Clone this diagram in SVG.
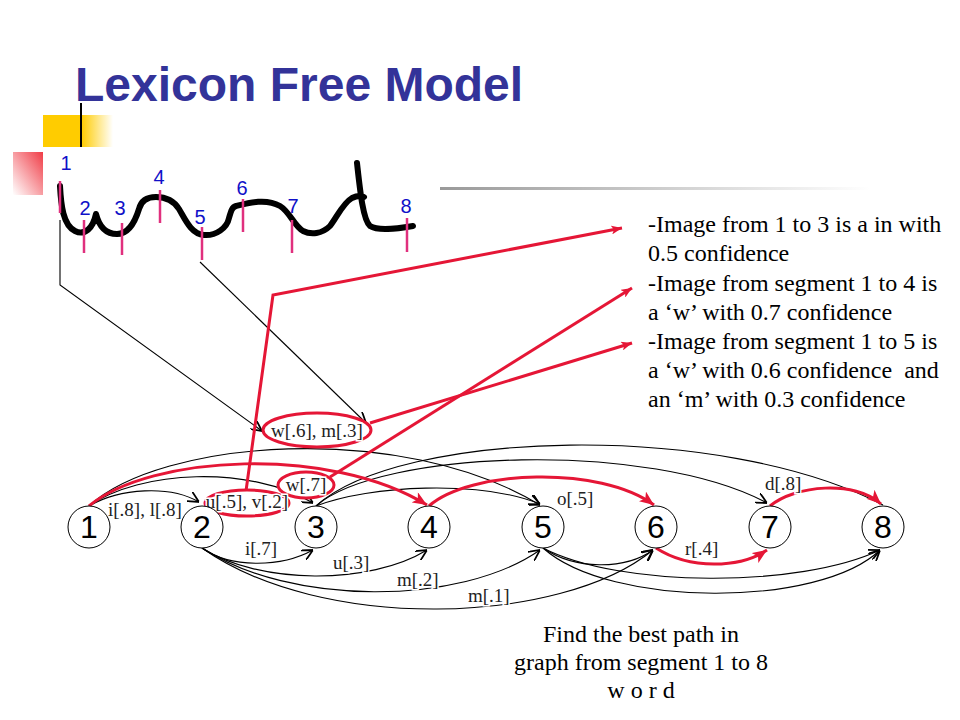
<svg xmlns="http://www.w3.org/2000/svg" width="960" height="720" viewBox="0 0 960 720">
<style>
.arc{fill:none;stroke:#000;stroke-width:1.1}
.red{fill:none;stroke:#e51636;stroke-width:3}
.node circle{fill:#fff;stroke:#000;stroke-width:1}
.node text{font-family:"Liberation Sans",Arial,sans-serif;font-size:32px;text-anchor:middle;fill:#000}
.lbl{font-family:"Liberation Serif","Times New Roman",serif;font-size:19px;fill:#222;paint-order:stroke;stroke:#fff;stroke-width:3}
.seg{stroke:#e0307e;stroke-width:2.5}
.num{font-family:"Liberation Sans",Arial,sans-serif;font-size:20px;fill:#1010c8;text-anchor:middle}
.body{font-family:"Liberation Serif","Times New Roman",serif;font-size:24px;fill:#000}
.oval{fill:#fff;stroke:#e51636;stroke-width:3}
</style>
<defs>
<marker id="ah" viewBox="0 0 10 10" refX="10" refY="5" markerWidth="11" markerHeight="11" markerUnits="userSpaceOnUse" orient="auto"><path d="M0,0 L10,5 L0,10" fill="none" stroke="#000" stroke-width="1.6"/></marker>
<marker id="ahr" viewBox="0 0 12 10" refX="12" refY="5" markerWidth="15" markerHeight="12" markerUnits="userSpaceOnUse" orient="auto"><path d="M0,0 L12,5 L0,10 L3,5 z" fill="#e51636"/></marker>
<marker id="ahs" viewBox="0 0 12 10" refX="12" refY="5" markerWidth="11" markerHeight="9" markerUnits="userSpaceOnUse" orient="auto"><path d="M0,0 L12,5 L0,10 L3,5 z" fill="#e51636"/></marker>
<linearGradient id="gy" x1="0" y1="0" x2="1" y2="0"><stop offset="0.55" stop-color="#ffcc00"/><stop offset="1" stop-color="#ffcc00" stop-opacity="0"/></linearGradient>
<linearGradient id="gp" x1="1" y1="0" x2="0" y2="1"><stop offset="0" stop-color="#f03c46"/><stop offset="1" stop-color="#f03c46" stop-opacity="0"/></linearGradient>
<linearGradient id="gg" x1="0" y1="0" x2="1" y2="0"><stop offset="0" stop-color="#999"/><stop offset="1" stop-color="#999" stop-opacity="0"/></linearGradient>
</defs>
<rect width="960" height="720" fill="#fff"/>

<g id="decoration">
<rect x="43" y="115" width="70" height="32" fill="url(#gy)"/>
<line x1="81" y1="103" x2="81" y2="147" stroke="#000" stroke-width="2"/>
<rect x="13" y="152" width="30" height="43" fill="url(#gp)"/>
<rect x="440" y="187" width="430" height="3" fill="url(#gg)"/>
</g>

<text id="title" x="75" y="101" font-family="Liberation Sans,Arial,sans-serif" font-weight="bold" font-size="48" fill="#333399">Lexicon Free Model</text>

<g id="handwriting">
<path d="M60,186 C61,205 63,225 75,231 C85,236 93,228 96,214 C99,226 105,234 117,234 C128,234 135,222 139,209 C141,201 146,197 156,197 C166,197 174,201 179,209 C185,219 191,234 204,235 C216,236 227,228 229,218 C231,211 232,207 236,206 C248,203 266,198 280,206 C290,212 294,226 303,231 C311,235 322,234 330,226 C337,217 343,203 352,198 C358,195 363,196 364,197 M357,163 C360,190 363,220 370,226 C378,231 395,229 413,226" fill="none" stroke="#000" stroke-width="6" stroke-linecap="round" stroke-linejoin="round"/>
</g>

<g id="segments">
<line class="seg" x1="60" y1="181" x2="60" y2="213"/>
<line class="seg" x1="84" y1="220" x2="84" y2="253"/>
<line class="seg" x1="122" y1="223" x2="122" y2="255"/>
<line class="seg" x1="160" y1="190" x2="160" y2="223"/>
<line class="seg" x1="202" y1="227" x2="202" y2="260"/>
<line class="seg" x1="243" y1="199" x2="243" y2="232"/>
<line class="seg" x1="292" y1="220" x2="292" y2="253"/>
<line class="seg" x1="407" y1="218" x2="407" y2="252"/>
<text class="num" x="66" y="170">1</text>
<text class="num" x="85" y="215">2</text>
<text class="num" x="120" y="215">3</text>
<text class="num" x="159" y="184">4</text>
<text class="num" x="200" y="224">5</text>
<text class="num" x="242" y="195">6</text>
<text class="num" x="293" y="213">7</text>
<text class="num" x="406" y="213">8</text>
</g>

<g id="connectors">
<path class="arc" d="M60,220 L60,285 L262,431" marker-end="url(#ah)" stroke-width="0.9"/>
<path class="arc" d="M200,262 L366,423" marker-end="url(#ah)" stroke-width="0.9"/>
<path class="arc" d="M89,506 C120,488 170,485 199,502" marker-end="url(#ah)"/>
<path class="arc" d="M89,506 C140,470 250,465 313,503" marker-end="url(#ah)"/>
<path class="arc" d="M89,506 C160,440 400,420 540,505" marker-end="url(#ah)"/>
<path class="arc" d="M316,506 C370,485 480,480 540,504" marker-end="url(#ah)"/>
<path class="arc" d="M316,506 C380,450 650,440 767,503" marker-end="url(#ah)"/>
<path class="arc" d="M316,506 C400,430 720,420 883,505"/>
<path class="arc" d="M202,548 C230,568 280,568 313,550" marker-end="url(#ah)"/>
<path class="arc" d="M202,548 C260,585 370,585 427,550" marker-end="url(#ah)"/>
<path class="arc" d="M202,548 C290,606 460,606 540,550" marker-end="url(#ah)"/>
<path class="arc" d="M202,548 C320,632 560,626 653,550" marker-end="url(#ah)"/>
<path class="arc" d="M543,548 C575,570 625,570 653,550" marker-end="url(#ah)"/>
<path class="arc" d="M543,548 C620,588 800,588 880,550" marker-end="url(#ah)"/>
<path class="arc" d="M543,548 C610,608 820,608 880,550" marker-end="url(#ah)"/>
<path class="red" d="M89,506 C150,455 330,445 427,505" marker-end="url(#ahr)"/>
<path class="red" d="M429,506 C470,470 600,465 654,505" marker-end="url(#ahr)"/>
<path class="red" d="M656,548 C690,570 740,568 767,550" marker-end="url(#ahr)"/>
<path class="red" d="M770,506 C795,485 855,480 881,504" marker-end="url(#ahr)"/>
<path class="red" d="M246,491 L273,295 L622,228" marker-end="url(#ahs)"/>
<path class="red" d="M330,477 L632,288" marker-end="url(#ahs)"/>
<path class="red" d="M370,423 L632,343" marker-end="url(#ahs)"/>
</g>

<g id="label-w6m3"><ellipse class="oval" cx="317" cy="430" rx="54" ry="17"/><text class="lbl" x="317" y="437" text-anchor="middle">w[.6], m[.3]</text></g>
<g id="label-w7"><ellipse class="oval" cx="306" cy="485" rx="28" ry="13"/><text class="lbl" x="306" y="491" text-anchor="middle">w[.7]</text></g>
<g id="label-u5v2"><ellipse class="oval" cx="247" cy="503" rx="42" ry="13"/><text class="lbl" x="247" y="508" text-anchor="middle" font-size="16">u[.5], v[.2]</text></g>

<g id="edge-labels">
<text class="lbl" x="108" y="516">i[.8], l[.8]</text>
<text class="lbl" x="557" y="505">o[.5]</text>
<text class="lbl" x="765" y="490">d[.8]</text>
<text class="lbl" x="685" y="555">r[.4]</text>
<text class="lbl" x="245" y="555">i[.7]</text>
<text class="lbl" x="333" y="569">u[.3]</text>
<text class="lbl" x="397" y="586">m[.2]</text>
<text class="lbl" x="468" y="602">m[.1]</text>
</g>

<g id="node-1" class="node"><circle cx="89" cy="527" r="21"/><text x="89" y="538">1</text></g>
<g id="node-2" class="node"><circle cx="202" cy="527" r="21"/><text x="202" y="538">2</text></g>
<g id="node-3" class="node"><circle cx="316" cy="527" r="21"/><text x="316" y="538">3</text></g>
<g id="node-4" class="node"><circle cx="429" cy="527" r="21"/><text x="429" y="538">4</text></g>
<g id="node-5" class="node"><circle cx="543" cy="527" r="21"/><text x="543" y="538">5</text></g>
<g id="node-6" class="node"><circle cx="656" cy="527" r="21"/><text x="656" y="538">6</text></g>
<g id="node-7" class="node"><circle cx="770" cy="527" r="21"/><text x="770" y="538">7</text></g>
<g id="node-8" class="node"><circle cx="883" cy="527" r="21"/><text x="883" y="538">8</text></g>

<g id="notes" class="body">
<text x="648" y="232">-Image from 1 to 3 is a in with</text>
<text x="648" y="261">0.5 confidence</text>
<text x="648" y="291">-Image from segment 1 to 4 is</text>
<text x="648" y="320">a ‘w’ with 0.7 confidence</text>
<text x="648" y="349">-Image from segment 1 to 5 is</text>
<text x="648" y="378" xml:space="preserve">a ‘w’ with 0.6 confidence  and</text>
<text x="648" y="407">an ‘m’ with 0.3 confidence</text>
</g>

<g id="caption" class="body" text-anchor="middle">
<text x="641" y="642">Find the best path in</text>
<text x="641" y="670">graph from segment 1 to 8</text>
<text x="641" y="698">w o r d</text>
</g>
</svg>
